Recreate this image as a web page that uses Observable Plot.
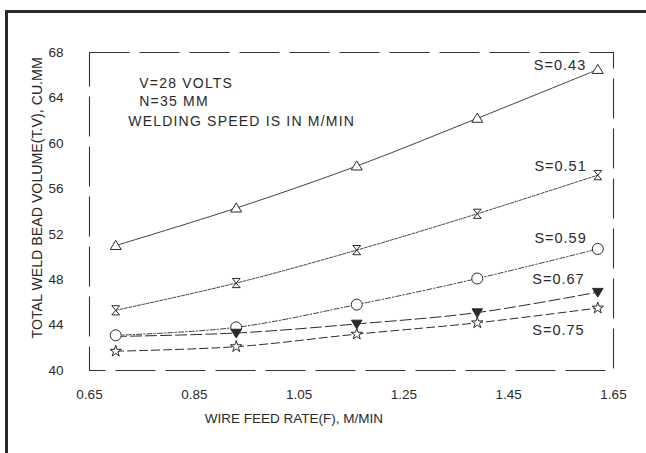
<!DOCTYPE html>
<html>
<head>
<meta charset="utf-8">
<script src="https://cdn.jsdelivr.net/npm/d3@7"></script>
<script src="https://cdn.jsdelivr.net/npm/@observablehq/plot@0.6"></script>
<style>
  html, body { margin: 0; padding: 0; background: #fff; }
  #wrap { position: relative; width: 646px; height: 453px; overflow: hidden; background: #fff; }
  #border { position: absolute; left: 5px; top: 10px; width: 700px; height: 500px;
            border-left: 3px solid #2a2a2a; border-top: 3px solid #2a2a2a; }
  #chart { position: absolute; left: 0; top: 0; }
  .notes text { letter-spacing: 1.2px; }
  .slabels text { letter-spacing: 1px; }
</style>
</head>
<body>
<div id="wrap"><div id="border"></div><div id="chart"></div></div>
<script>
// Wire feed rate (M/MIN)
const feedRate = [0.70, 0.93, 1.16, 1.39, 1.62];
// Total weld bead volume for each welding speed S (M/MIN)
const s043 = [51.0, 54.3, 58.0, 62.2, 66.5];
const s051 = [45.3, 47.7, 50.6, 53.8, 57.2];
const s059 = [43.1, 43.8, 45.8, 48.1, 50.7];
const s067 = [43.0, 43.3, 44.1, 45.1, 46.9];
const s075 = [41.7, 42.1, 43.2, 44.2, 45.5];
const seriesNames = ["S=0.43", "S=0.51", "S=0.59", "S=0.67", "S=0.75"];
const xTicks = [0.65, 0.85, 1.05, 1.25, 1.45, 1.65];
const yTicks = [40, 44, 48, 52, 56, 60, 64, 68];
const notes = ["V=28 VOLTS", "N=35 MM", "WELDING SPEED IS IN M/MIN"];
const xTitle = "WIRE FEED RATE(F), M/MIN";
const yTitle = "TOTAL WELD BEAD VOLUME(T.V), CU.MM";

const allSeries = [s043, s051, s059, s067, s075];
const rows = (vals, name) => vals.map((v, i) => ({x: feedRate[i], v, s: name, i}));
const data = allSeries.map((vals, k) => rows(vals, seriesNames[k]));

const rad = (size) => Math.sqrt(size / Math.PI);
const triUp = {draw(c, size) { const r = rad(size); c.moveTo(0, -r); c.lineTo(r * 1.05, r * 0.75); c.lineTo(-r * 1.05, r * 0.75); c.closePath(); }};
const triDown = {draw(c, size) { const r = rad(size); c.moveTo(0, r); c.lineTo(r * 1.05, -r * 0.75); c.lineTo(-r * 1.05, -r * 0.75); c.closePath(); }};
const hourglass = {draw(c, size) { const r = rad(size); c.moveTo(-r * 0.85, -r); c.lineTo(r * 0.85, -r); c.lineTo(-r * 0.85, r); c.lineTo(r * 0.85, r); c.closePath(); }};

const ink = "#2a2a2a";
const lineStyles = [
  {strokeDasharray: null, strokeWidth: 0.9},
  {strokeDasharray: "3,1.5", strokeWidth: 0.9},
  {strokeDasharray: "5,2,1.5,2", strokeWidth: 0.9},
  {strokeDasharray: "11,4", strokeWidth: 1.0},
  {strokeDasharray: "8,4", strokeWidth: 1.0}
];
const labelPos = [
  {x: 1.548, v: 66.9}, {x: 1.549, v: 58.0}, {x: 1.549, v: 51.6}, {x: 1.545, v: 48.0}, {x: 1.545, v: 43.5}
];

const marks = [
  Plot.frame({stroke: "#333", strokeDasharray: "40,10", strokeWidth: 1.1}),
  Plot.axisX({ticks: xTicks, tickSize: 0, tickPadding: 19, tickFormat: d => d.toFixed(2), label: null, fontSize: 13.5}),
  Plot.axisY({ticks: yTicks, tickSize: 0, tickPadding: 26, label: null, fontSize: 13.5}),
];
data.forEach((d, k) => {
  marks.push(Plot.line(d, {x: "x", y: "v", curve: "catmull-rom", stroke: ink, ...lineStyles[k]}));
});
marks.push(
  Plot.dot(data[0], {x: "x", y: "v", symbol: triUp, r: 5.2, stroke: ink, fill: "white", strokeWidth: 1}),
  Plot.dot(data[1], {x: "x", y: "v", symbol: hourglass, r: 4.6, stroke: ink, fill: "white", strokeWidth: 1}),
  Plot.dot(data[2], {x: "x", y: "v", symbol: "circle", r: 5.5, stroke: ink, fill: "white", strokeWidth: 1}),
  Plot.dot(data[3].filter(d => d.i > 0), {x: "x", y: "v", symbol: triDown, r: 5, stroke: ink, fill: ink, strokeWidth: 1}),
  Plot.dot(data[4], {x: "x", y: "v", symbol: "star", r: 3.6, stroke: ink, fill: "white", strokeWidth: 1})
);
marks.push(
  Plot.text(seriesNames, {x: (d, i) => labelPos[i].x, y: (d, i) => labelPos[i].v, text: d => d, fontSize: 14.5, fill: ink, className: "slabels"})
);
marks.push(
  Plot.text([notes[0]], {x: 0.745, y: 65.3, text: d => d, textAnchor: "start", fontSize: 14, fill: ink, className: "notes"}),
  Plot.text([notes[1]], {x: 0.745, y: 63.7, text: d => d, textAnchor: "start", fontSize: 14, fill: ink, className: "notes"}),
  Plot.text([notes[2]], {x: 0.724, y: 61.9, text: d => d, textAnchor: "start", fontSize: 14, fill: ink, className: "notes"}),
  Plot.text([xTitle], {x: 1.04, frameAnchor: "bottom", dy: 52, text: d => d, fontSize: 13.5, fill: ink}),
  Plot.text([yTitle], {y: 55.2, frameAnchor: "left", textAnchor: "middle", dx: -52, rotate: -90, text: d => d, fontSize: 14.2, fill: ink})
);

const chart = Plot.plot({
  width: 646, height: 453,
  marginLeft: 89, marginRight: 33, marginTop: 52, marginBottom: 83,
  x: {domain: [0.65, 1.65]},
  y: {domain: [40, 68]},
  style: {fontFamily: "'Liberation Sans', Arial, sans-serif", fontSize: "13.5px", color: ink, background: "transparent"},
  marks
});
document.getElementById("chart").appendChild(chart);
</script>
</body>
</html>
